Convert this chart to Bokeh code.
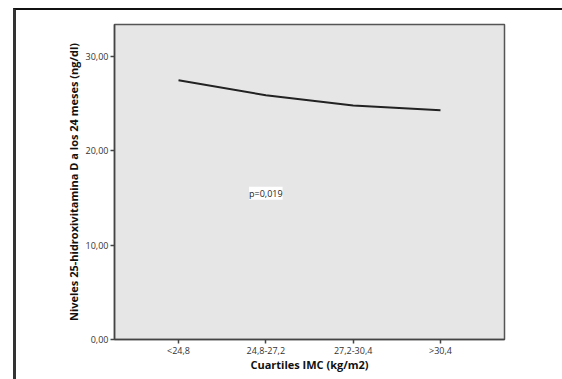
from bokeh.plotting import figure
from bokeh.models import Range1d, FixedTicker, Label
from bokeh.embed import file_html
from bokeh.resources import INLINE

categories = ["<24,8", "24,8-27,2", "27,2-30,4", ">30,4"]
x_pos = [1, 2, 3, 4]
vitd = [27.5, 25.9, 24.8, 24.3]
y_ticks = [0, 10, 20, 30]
y_tick_labels = ["0,00", "10,00", "20,00", "30,00"]
p_text = "p=0,019"

FONT = "Open Sans"

p = figure(width=546, height=369, output_backend="svg", toolbar_location=None,
           x_range=Range1d(0.267, 4.733), y_range=Range1d(0, 33.4),
           min_border_left=98, min_border_top=14, min_border_right=58, min_border_bottom=40,
           frame_width=390, frame_height=315)
p.styles = {"border-left": "3px solid #333", "border-top": "2px solid #111",
            "margin-left": "13px", "margin-top": "8px"}

p.background_fill_color = "#e6e6e6"
p.border_fill_color = "white"
p.outline_line_color = "#555555"
p.outline_line_width = 1.5
p.xgrid.visible = False
p.ygrid.visible = False

p.line(x_pos, vitd, line_color="#222222", line_width=2)

p.add_layout(Label(x=2, y=15.5, text=p_text, text_align="center", text_baseline="middle",
                   text_font=FONT, text_font_size="9px", text_color="#222222",
                   background_fill_color="white", background_fill_alpha=1.0))

xa = p.xaxis[0]
xa.ticker = FixedTicker(ticks=x_pos)
xa.major_label_overrides = {x: c for x, c in zip(x_pos, categories)}
xa.axis_label = "Cuartiles IMC (kg/m2)"
ya = p.yaxis[0]
ya.ticker = FixedTicker(ticks=y_ticks)
ya.major_label_overrides = {t: l for t, l in zip(y_ticks, y_tick_labels)}
ya.axis_label = "Niveles 25-hidroxivitamina D a los 24 meses (ng/dl)"

for ax in (xa, ya):
    ax.axis_line_color = "#444444"
    ax.axis_line_width = 1.5
    ax.major_tick_line_color = "#444444"
    ax.major_tick_line_width = 1.5
    ax.major_tick_in = 0
    ax.major_tick_out = 4
    ax.minor_tick_line_color = None
    ax.major_label_text_font = FONT
    ax.major_label_text_font_size = "9px"
    ax.major_label_text_color = "#333333"
    ax.axis_label_text_font = FONT
    ax.axis_label_text_font_size = "11px"
    ax.axis_label_text_font_style = "bold"
    ax.axis_label_text_color = "#111111"
ya.major_label_standoff = 2
ya.axis_label_standoff = 2
xa.major_label_standoff = 0
xa.axis_label_standoff = -3

open("out.html", "w").write(file_html(p, INLINE))
